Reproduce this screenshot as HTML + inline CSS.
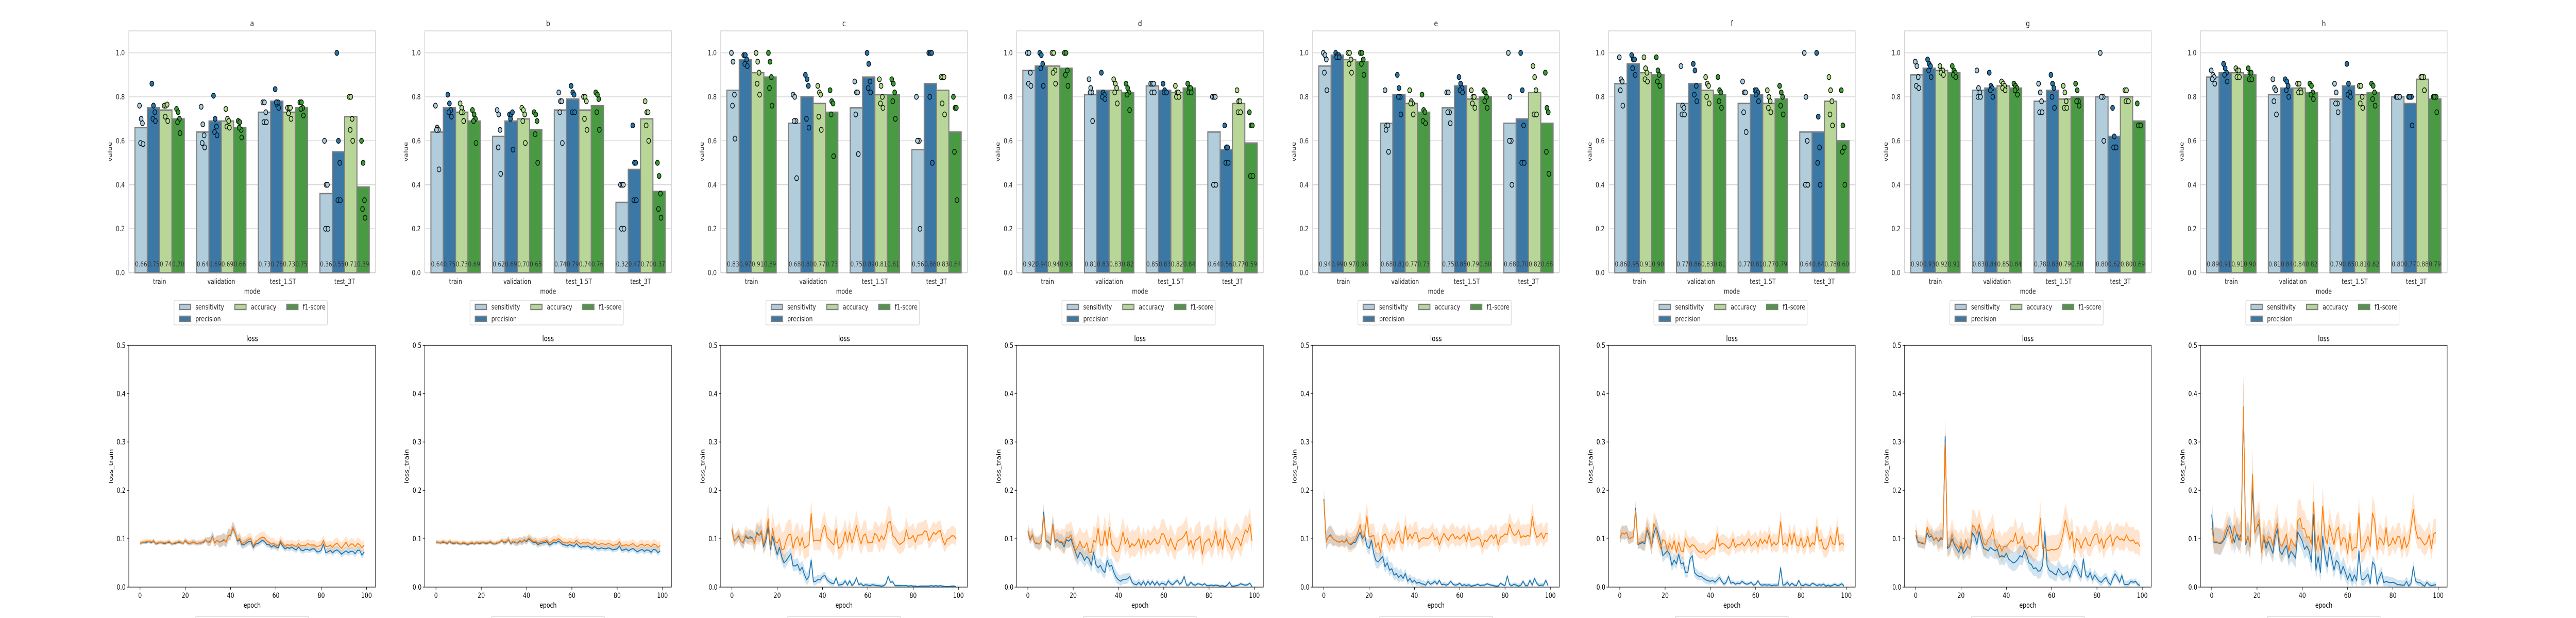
<!DOCTYPE html>
<html><head><meta charset="utf-8">
<style>
html,body{margin:0;padding:0;background:#fff;width:100%;height:100%;overflow:hidden;}
svg{display:block;position:absolute;left:0;top:0;width:100vw;height:100vh;}
text{font-family:"DejaVu Sans","Liberation Sans",sans-serif;}
</style></head>
<body>
<svg id="fig" viewBox="0 0 6400 1200" preserveAspectRatio="none" xmlns="http://www.w3.org/2000/svg"></svg>
<script>
// ---------- data ----------
const panelLetters = ["a","b","c","d","e","f","g","h"];
const modes = ["train","validation","test_1.5T","test_3T"];
const metrics = ["sensitivity","precision","accuracy","f1-score"];
const yTicksBar = [0,0.2,0.4,0.6,0.8,1.0];
const yTicksLoss = [0,0.1,0.2,0.3,0.4,0.5];
const xTicksLoss = [0,20,40,60,80,100];

const barA = [[.66,.75,.74,.70],[.64,.69,.69,.66],[.73,.78,.73,.75],[.36,.55,.71,.39]];
const barB = [[.64,.75,.73,.69],[.62,.69,.70,.65],[.74,.79,.74,.76],[.32,.47,.70,.37]];
const barC = [[.83,.97,.91,.89],[.68,.80,.77,.73],[.75,.89,.81,.81],[.56,.86,.83,.64]];
const barD = [[.92,.94,.94,.93],[.81,.83,.83,.82],[.85,.83,.82,.84],[.64,.56,.77,.59]];
const barE = [[.94,.99,.97,.96],[.68,.81,.77,.73],[.75,.85,.79,.80],[.68,.70,.82,.68]];
const barF = [[.86,.95,.91,.90],[.77,.86,.83,.81],[.77,.81,.77,.79],[.64,.64,.78,.60]];
const barG = [[.90,.93,.92,.91],[.83,.84,.85,.84],[.78,.83,.79,.80],[.80,.62,.80,.69]];
const barH = [[.89,.91,.91,.90],[.81,.84,.84,.82],[.79,.85,.81,.82],[.80,.77,.88,.79]];

const dotsA = [[[.76,.70,.68,.59,.585],[.86,.76,.73,.70,.69],[.76,.76,.765,.71,.69],[.745,.73,.70,.685,.635]],
 [[.755,.675,.625,.59,.57],[.805,.70,.665,.64,.625],[.745,.70,.69,.665,.66],[.69,.685,.65,.66,.615]],
 [[.775,.775,.73,.685,.685],[.835,.765,.775,.775,.75],[.75,.75,.75,.725,.70],[.775,.775,.75,.745,.715]],
 [[.60,.40,.40,.20,.20],[1.0,.60,.50,.33,.33],[.80,.80,.70,.65,.60],[.60,.50,.33,.29,.25]]];
const dotsB = [[[.76,.66,.65,.65,.47],[.81,.77,.74,.73,.71],[.77,.75,.73,.73,.69],[.74,.72,.70,.69,.59]],
 [[.74,.72,.65,.57,.45],[.72,.72,.73,.70,.56],[.75,.74,.72,.69,.59],[.73,.72,.69,.63,.50]],
 [[.82,.78,.78,.73,.59],[.85,.82,.81,.73,.73],[.80,.80,.78,.70,.65],[.82,.81,.79,.73,.65]],
 [[.40,.40,.40,.20,.20],[.67,.50,.50,.33,.33],[.78,.73,.73,.67,.60],[.50,.44,.36,.29,.25]]];
const dotsC = [[[1.0,.96,.81,.76,.61],[.99,.99,.97,.95,.94],[1.0,.96,.91,.86,.81],[1.0,.96,.89,.84,.76]],
 [[.81,.80,.69,.69,.43],[.90,.88,.85,.70,.66],[.85,.82,.81,.71,.65],[.83,.78,.77,.72,.53]],
 [[.87,.82,.82,.72,.54],[1.0,.95,.87,.84,.82],[.88,.85,.80,.77,.75],[.88,.86,.82,.78,.70]],
 [[.80,.60,.60,.60,.20],[1.0,1.0,1.0,.80,.50],[.89,.89,.89,.77,.72],[.80,.75,.75,.55,.33]]];
const dotsD = [[[1.0,1.0,.91,.86,.85],[1.0,.99,.95,.93,.85],[1.0,1.0,.92,.91,.86],[1.0,1.0,.92,.90,.85]],
 [[.88,.84,.82,.82,.69],[.91,.82,.81,.80,.79],[.88,.86,.84,.82,.77],[.86,.84,.82,.81,.74]],
 [[.86,.86,.86,.82,.82],[.86,.83,.82,.82,.82],[.85,.82,.82,.80,.80],[.86,.84,.84,.82,.82]],
 [[.80,.80,.80,.40,.40],[.67,.57,.57,.50,.50],[.83,.78,.78,.73,.73],[.73,.67,.67,.44,.44]]];
const dotsE = [[[1.0,.99,.97,.91,.83],[1.0,.99,.99,.98,.98],[1.0,1.0,.97,.95,.91],[1.0,1.0,.97,.95,.90]],
 [[.83,.67,.67,.65,.55],[.90,.84,.80,.80,.72],[.83,.78,.77,.77,.72],[.81,.74,.73,.69,.68]],
 [[.82,.82,.73,.73,.68],[.89,.86,.84,.83,.82],[.83,.80,.80,.77,.75],[.83,.82,.80,.78,.75]],
 [[1.0,.80,.60,.60,.40],[1.0,.83,.67,.50,.50],[.94,.89,.83,.72,.72],[.91,.75,.73,.55,.45]]];
const dotsF = [[[.98,.88,.87,.83,.76],[.99,.97,.97,.93,.90],[.98,.93,.91,.88,.87],[.98,.92,.90,.87,.85]],
 [[.94,.76,.75,.72,.72],[.95,.92,.85,.81,.78],[.89,.86,.85,.80,.77],[.89,.83,.82,.78,.75]],
 [[.87,.82,.82,.73,.64],[.83,.83,.82,.81,.78],[.83,.80,.78,.75,.73],[.85,.82,.80,.76,.72]],
 [[1.0,.80,.60,.40,.40],[1.0,.71,.57,.50,.40],[.89,.83,.78,.72,.67],[.83,.67,.57,.55,.40]]];
const dotsG = [[[.96,.94,.89,.85,.84],[.97,.95,.94,.92,.89],[.94,.92,.92,.91,.90],[.94,.92,.91,.90,.89]],
 [[.92,.84,.82,.80,.80],[.91,.85,.84,.83,.80],[.87,.86,.85,.84,.83],[.86,.85,.84,.83,.81]],
 [[.86,.82,.78,.73,.73],[.90,.86,.84,.80,.75],[.85,.82,.78,.75,.75],[.86,.83,.78,.78,.76]],
 [[1.0,.80,.80,.80,.60],[.75,.62,.57,.57,.57],[.83,.83,.78,.78,.78],[.77,.67,.67,.67,.67]]];
const dotsH = [[[.92,.90,.89,.88,.86],[.95,.93,.91,.90,.87],[.93,.92,.92,.89,.89],[.93,.91,.91,.88,.88]],
 [[.88,.84,.83,.78,.72],[.88,.87,.85,.83,.80],[.86,.86,.83,.82,.82],[.86,.85,.82,.81,.79]],
 [[.86,.82,.77,.77,.73],[.95,.86,.82,.81,.80],[.85,.85,.80,.77,.75],[.86,.85,.82,.79,.76]],
 [[.80,.80,.80,.80,.80],[.80,.80,.80,.80,.67],[.89,.89,.89,.89,.83],[.80,.80,.80,.80,.73]]];

const lossTrainA = [.090,.092,.092,.093,.094,.092,.095,.089,.091,.092,.091,.090,.092,.093,.089,.090,.091,.093,.092,.090,
 .096,.091,.090,.092,.092,.090,.091,.091,.093,.097,.093,.094,.105,.091,.097,.093,.094,.098,.093,.106,
 .107,.122,.112,.095,.098,.087,.088,.091,.094,.094,.082,.089,.090,.093,.097,.094,.088,.088,.083,.086,
 .083,.081,.092,.085,.079,.082,.080,.083,.079,.077,.083,.077,.075,.078,.078,.076,.079,.079,.073,.073,
 .076,.089,.071,.073,.076,.071,.075,.077,.073,.068,.072,.075,.071,.074,.074,.069,.076,.076,.066,.073];
const lossValA = [.090,.093,.093,.094,.095,.093,.096,.090,.092,.093,.092,.091,.093,.094,.089,.091,.092,.094,.093,.090,
 .097,.092,.090,.093,.093,.090,.091,.092,.094,.098,.093,.093,.104,.091,.097,.093,.095,.099,.093,.107,
 .108,.124,.113,.097,.101,.090,.092,.095,.099,.100,.085,.093,.097,.101,.103,.102,.096,.092,.089,.090,
 .087,.085,.096,.090,.084,.088,.086,.088,.086,.084,.090,.085,.086,.086,.090,.087,.087,.087,.083,.085,
 .087,.097,.084,.084,.087,.082,.088,.091,.085,.080,.087,.093,.083,.089,.089,.083,.090,.088,.081,.087];
const lossTrainB = [.093,.092,.091,.093,.092,.090,.094,.091,.090,.092,.090,.089,.091,.090,.088,.090,.091,.089,.092,.090,
 .091,.092,.090,.091,.093,.090,.089,.091,.092,.096,.092,.093,.098,.090,.094,.092,.091,.095,.093,.097,
 .094,.100,.096,.092,.093,.088,.090,.091,.092,.094,.087,.089,.093,.091,.095,.092,.088,.087,.085,.088,
 .086,.084,.090,.085,.082,.084,.083,.085,.082,.080,.084,.080,.079,.081,.080,.079,.081,.080,.077,.078,
 .079,.085,.076,.077,.079,.075,.078,.080,.076,.073,.076,.078,.074,.077,.076,.072,.078,.077,.071,.075];
const lossValB = [.093,.093,.092,.094,.093,.091,.095,.092,.091,.093,.091,.090,.092,.091,.089,.091,.092,.090,.093,.091,
 .092,.093,.091,.092,.094,.091,.090,.092,.093,.097,.093,.094,.099,.091,.095,.093,.092,.096,.094,.098,
 .096,.102,.098,.094,.095,.091,.093,.094,.095,.097,.091,.094,.098,.096,.100,.097,.093,.092,.091,.094,
 .092,.091,.097,.092,.090,.092,.091,.093,.090,.088,.093,.089,.088,.090,.089,.088,.090,.089,.086,.087,
 .088,.094,.085,.086,.088,.085,.088,.090,.086,.083,.087,.089,.085,.088,.087,.083,.089,.088,.082,.086];
const lossTrainC = [.118,.096,.100,.105,.095,.091,.105,.100,.104,.102,.091,.113,.107,.112,.083,.097,.125,.078,.105,.085,
 .067,.082,.062,.050,.055,.062,.069,.044,.044,.047,.034,.041,.026,.015,.022,.056,.011,.012,.016,.015,
 .022,.024,.015,.011,.008,.007,.019,.004,.005,.006,.013,.004,.013,.003,.008,.019,.005,.007,.003,.005,
 .004,.003,.005,.004,.003,.003,.002,.003,.007,.022,.010,.011,.003,.003,.003,.003,.003,.003,.002,.003,
 .002,.002,.001,.002,.002,.002,.002,.002,.003,.002,.003,.002,.003,.002,.001,.001,.001,.002,.002,.001];
const lossValC = [.121,.095,.100,.108,.095,.092,.108,.103,.101,.101,.090,.110,.106,.117,.088,.105,.141,.084,.121,.094,
 .091,.100,.077,.079,.097,.108,.109,.080,.098,.104,.085,.103,.081,.084,.088,.152,.095,.097,.097,.095,
 .117,.128,.103,.098,.092,.087,.120,.080,.083,.092,.115,.093,.114,.091,.108,.127,.105,.089,.106,.110,
 .091,.093,.092,.111,.107,.094,.106,.098,.110,.134,.135,.106,.102,.094,.088,.091,.095,.118,.100,.101,
 .107,.093,.107,.108,.108,.116,.115,.096,.104,.113,.109,.115,.117,.099,.087,.099,.101,.106,.106,.100];
const lossTrainD = [.115,.098,.108,.092,.090,.089,.095,.155,.095,.092,.088,.130,.093,.098,.093,.092,.083,.098,.095,.100,
 .086,.072,.060,.072,.066,.055,.063,.058,.045,.072,.047,.040,.045,.035,.030,.055,.043,.045,.030,.020,
 .015,.012,.016,.016,.017,.022,.010,.006,.005,.010,.004,.012,.003,.012,.005,.012,.004,.011,.004,.008,
 .007,.004,.013,.007,.005,.010,.014,.006,.010,.022,.004,.004,.010,.005,.004,.007,.006,.004,.007,.003,
 .003,.004,.003,.004,.003,.002,.003,.001,.004,.010,.002,.002,.003,.004,.007,.005,.004,.005,.008,.001];
const lossValD = [.117,.100,.109,.092,.091,.089,.094,.147,.097,.095,.089,.128,.097,.099,.094,.094,.090,.103,.102,.108,
 .090,.075,.083,.095,.083,.082,.092,.072,.072,.097,.093,.122,.087,.087,.117,.086,.123,.089,.082,.073,
 .075,.092,.114,.090,.100,.082,.090,.085,.091,.100,.080,.098,.082,.097,.087,.094,.100,.089,.093,.110,
 .110,.097,.085,.101,.088,.077,.095,.098,.100,.106,.115,.086,.097,.078,.097,.100,.105,.068,.091,.096,
 .100,.083,.094,.116,.085,.100,.078,.118,.097,.090,.077,.090,.103,.098,.085,.103,.118,.113,.130,.095];
const lossTrainE = [.182,.095,.104,.108,.100,.097,.094,.093,.096,.092,.098,.090,.088,.092,.093,.104,.113,.100,.108,.085,
 .080,.097,.070,.055,.052,.058,.063,.042,.050,.035,.038,.025,.028,.020,.025,.018,.028,.012,.018,.010,
 .014,.008,.010,.007,.006,.004,.012,.006,.008,.012,.006,.014,.005,.006,.004,.006,.012,.006,.004,.005,
 .008,.003,.005,.003,.005,.002,.003,.004,.006,.003,.004,.004,.007,.005,.004,.003,.002,.002,.008,.005,
 .003,.023,.005,.003,.006,.004,.002,.004,.012,.003,.003,.014,.004,.018,.008,.003,.004,.004,.014,.003];
const lossValE = [.178,.093,.104,.106,.100,.097,.094,.093,.096,.092,.100,.090,.090,.094,.100,.112,.130,.103,.108,.147,
 .104,.105,.107,.082,.092,.072,.105,.110,.100,.088,.100,.090,.107,.115,.095,.090,.126,.098,.110,.100,
 .112,.112,.093,.100,.102,.101,.100,.104,.112,.098,.104,.087,.100,.111,.103,.097,.106,.110,.100,.105,
 .099,.104,.109,.094,.113,.097,.099,.100,.104,.099,.083,.097,.094,.102,.108,.100,.109,.087,.103,.105,
 .110,.108,.130,.115,.107,.109,.118,.102,.106,.104,.107,.105,.146,.118,.103,.106,.112,.100,.111,.110];
const lossTrainF = [.101,.112,.110,.113,.100,.102,.104,.163,.088,.090,.092,.090,.118,.105,.084,.110,.124,.110,.092,.065,
 .070,.075,.068,.045,.056,.048,.068,.048,.050,.030,.030,.058,.065,.030,.025,.022,.022,.018,.015,.013,
 .012,.014,.010,.015,.020,.012,.006,.010,.022,.008,.010,.006,.008,.007,.012,.008,.006,.007,.010,.004,
 .006,.013,.005,.004,.005,.004,.005,.003,.004,.004,.004,.040,.004,.005,.010,.003,.008,.004,.003,.014,
 .004,.003,.006,.004,.003,.008,.006,.003,.005,.004,.006,.002,.004,.002,.004,.006,.003,.004,.007,.002];
const lossValF = [.101,.112,.110,.113,.100,.102,.104,.158,.090,.093,.094,.095,.123,.112,.083,.131,.122,.096,.080,.098,
 .095,.075,.091,.078,.096,.072,.093,.075,.073,.100,.087,.082,.088,.085,.078,.073,.072,.075,.068,.073,
 .077,.082,.078,.110,.085,.090,.089,.085,.080,.085,.100,.082,.088,.087,.093,.085,.092,.100,.085,.090,
 .095,.083,.100,.090,.098,.090,.108,.085,.093,.087,.093,.135,.087,.092,.085,.110,.088,.112,.088,.085,
 .102,.082,.087,.105,.083,.092,.088,.125,.095,.098,.080,.078,.086,.106,.090,.088,.123,.087,.092,.088];
const lossTrainG = [.107,.092,.092,.090,.089,.112,.103,.106,.097,.102,.095,.100,.099,.312,.080,.085,.100,.088,.080,.072,
 .085,.070,.076,.085,.078,.112,.105,.088,.115,.095,.080,.078,.075,.082,.078,.075,.078,.062,.065,.062,
 .070,.058,.054,.050,.052,.057,.065,.062,.076,.066,.050,.047,.038,.040,.033,.034,.045,.115,.045,.034,
 .032,.028,.025,.038,.030,.025,.028,.032,.020,.035,.045,.040,.028,.020,.058,.025,.020,.030,.015,.025,
 .018,.012,.010,.016,.020,.010,.005,.018,.027,.020,.010,.024,.006,.005,.006,.012,.010,.012,.006,.003];
const lossValG = [.118,.094,.093,.092,.089,.124,.110,.108,.098,.103,.096,.103,.100,.298,.086,.088,.110,.090,.088,.080,
 .092,.076,.098,.085,.080,.127,.125,.110,.130,.110,.090,.087,.100,.105,.120,.090,.080,.088,.074,.085,
 .083,.090,.096,.094,.112,.090,.093,.105,.085,.079,.085,.082,.075,.085,.086,.142,.080,.082,.076,.076,
 .078,.077,.078,.080,.090,.110,.138,.120,.098,.115,.072,.100,.095,.080,.095,.102,.088,.085,.098,.108,
 .110,.090,.100,.080,.097,.102,.108,.085,.100,.105,.098,.100,.096,.108,.098,.095,.098,.090,.092,.084];
const lossTrainH = [.150,.092,.092,.091,.090,.095,.103,.118,.127,.110,.092,.111,.097,.110,.370,.088,.105,.083,.205,.112,
 .125,.130,.072,.103,.080,.095,.082,.070,.104,.120,.075,.067,.078,.086,.060,.074,.068,.060,.114,.105,
 .095,.078,.085,.075,.052,.150,.035,.063,.030,.105,.065,.042,.082,.058,.035,.055,.050,.027,.043,.030,
 .016,.028,.012,.025,.013,.075,.017,.015,.020,.027,.007,.052,.045,.006,.020,.030,.009,.012,.010,.009,
 .010,.008,.005,.005,.004,.004,.012,.002,.008,.042,.013,.009,.009,.005,.002,.010,.005,.003,.004,.005];
const lossValH = [.122,.095,.095,.092,.093,.097,.115,.127,.110,.090,.127,.110,.107,.095,.372,.093,.104,.085,.233,.112,
 .125,.140,.072,.108,.088,.104,.102,.085,.115,.132,.090,.084,.096,.110,.074,.100,.090,.083,.137,.143,
 .122,.120,.103,.104,.089,.175,.074,.107,.076,.167,.105,.089,.128,.107,.088,.116,.124,.086,.102,.099,
 .070,.111,.075,.082,.081,.153,.073,.077,.091,.105,.084,.153,.137,.077,.102,.097,.087,.123,.085,.089,
 .102,.089,.104,.104,.078,.104,.082,.093,.125,.160,.120,.101,.102,.094,.087,.092,.108,.080,.110,.113];

// band half-widths, one value per block of 5 epochs
const spreadTrain = [
 [.004,.004,.004,.004,.005,.005,.010,.014,.012,.010,.008,.008,.008,.008,.008,.007,.008,.008,.009,.009],
 [.004,.004,.004,.004,.004,.004,.006,.008,.008,.008,.007,.007,.007,.007,.007,.007,.007,.007,.008,.008],
 [.012,.014,.018,.018,.016,.014,.014,.010,.008,.006,.005,.004,.004,.004,.003,.002,.002,.002,.002,.002],
 [.012,.015,.016,.018,.020,.018,.016,.014,.012,.008,.006,.005,.006,.005,.004,.003,.003,.003,.003,.003],
 [.020,.012,.014,.014,.018,.016,.014,.010,.008,.006,.005,.004,.004,.003,.003,.003,.004,.005,.005,.005],
 [.015,.012,.020,.018,.016,.014,.012,.010,.008,.006,.005,.004,.004,.004,.006,.004,.004,.004,.004,.004],
 [.012,.015,.020,.020,.018,.020,.022,.022,.022,.022,.020,.020,.018,.016,.014,.012,.010,.010,.008,.006],
 [.030,.020,.030,.030,.025,.025,.022,.025,.025,.025,.022,.020,.018,.016,.014,.012,.010,.010,.008,.006]];
const spreadVal = [
 [.005,.005,.005,.005,.006,.006,.010,.014,.012,.012,.012,.012,.010,.010,.010,.010,.010,.012,.012,.012],
 [.005,.005,.005,.005,.005,.005,.007,.009,.009,.009,.009,.009,.009,.009,.009,.009,.009,.009,.010,.010],
 [.015,.018,.025,.030,.035,.030,.030,.025,.025,.030,.025,.028,.025,.030,.025,.025,.025,.022,.020,.020],
 [.015,.018,.022,.028,.030,.030,.030,.028,.030,.030,.025,.028,.030,.028,.030,.032,.030,.028,.030,.030],
 [.020,.014,.022,.025,.025,.022,.022,.022,.022,.020,.020,.022,.020,.020,.022,.022,.022,.024,.024,.022],
 [.015,.015,.022,.022,.020,.020,.018,.018,.018,.020,.018,.020,.020,.020,.022,.020,.020,.022,.022,.020],
 [.015,.018,.030,.030,.030,.030,.030,.030,.030,.030,.030,.030,.030,.030,.028,.028,.028,.028,.028,.028],
 [.030,.025,.035,.035,.035,.035,.035,.035,.035,.035,.030,.030,.030,.030,.030,.028,.028,.028,.028,.028]];

const barSets = [barA,barB,barC,barD,barE,barF,barG,barH];
const dotSets = [dotsA,dotsB,dotsC,dotsD,dotsE,dotsF,dotsG,dotsH];
const trainSets = [lossTrainA,lossTrainB,lossTrainC,lossTrainD,lossTrainE,lossTrainF,lossTrainG,lossTrainH];
const valSets = [lossValA,lossValB,lossValC,lossValD,lossValE,lossValF,lossValG,lossValH];

// ---------- drawing ----------
const NS = "http://www.w3.org/2000/svg";
const svg = document.getElementById("fig");
const W = 612.8, STEP = 735.3, LEFT0 = 320;
const TOP1 = 60, TOP2 = 670.4, HH = 469.6;
const barFill = ["#b1cddc","#3b78a6","#b7d698","#4a9a44"];
const dotFill = ["#a6cee3","#1f78b4","#b2df8a","#33a02c"];
const jitter = [-0.22,0.0,0.18,-0.08,0.26];

function el(tag, attrs, parent, txt){
  const e = document.createElementNS(NS, tag);
  for (const k in attrs) e.setAttribute(k, attrs[k]);
  if (txt !== undefined) e.textContent = txt;
  (parent || svg).appendChild(e);
  return e;
}

panelLetters.forEach((letter, p) => {
  const L = LEFT0 + p*STEP;
  const g = el("g", {});
  
  
  const yB = v => TOP1 + HH*(1 - v/1.1);
  const groupW = W/4;
  const xC = (m, k) => L + (m+0.5)*groupW + (k-1.5)*0.2*groupW;
  yTicksBar.forEach(t => {
    const gl = el("line", {x1:L, x2:L+W, y1:yB(t), y2:yB(t), stroke:"#cccccc", "stroke-width":1.4}, g);
    
    
    const tl = el("text", {x:L-10, y:yB(t)+5, "text-anchor":"end", "font-size":14, fill:"#262626"}, g, t.toFixed(1));
    
    
  });
  const fr = el("rect", {x:L, y:TOP1, width:W, height:HH, fill:"none", stroke:"#cccccc", "stroke-width":1.4}, g);
  
  
  const bars = barSets[p], dots = dotSets[p];
  modes.forEach((mName, m) => {
    metrics.forEach((met, k) => {
      const v = bars[m][k];
      const bw = 0.2*groupW;
      const b = el("rect", {x:xC(m,k)-bw/2, y:yB(v), width:bw, height:yB(0)-yB(v), fill:barFill[k], stroke:"#808080", "stroke-width":2.6}, g);
      
      
    });
  });
  modes.forEach((mName, m) => {
    metrics.forEach((met, k) => {
      const bw = 0.2*groupW;
      dots[m][k].forEach((d, i) => {
        const c = el("circle", {cx:xC(m,k)+jitter[i]*bw*0.6, cy:yB(d), r:4.8, fill:dotFill[k], stroke:"#111", "stroke-width":1.6}, g);
        
        
      });
      const lab = el("text", {x:xC(m,k), y:yB(0)-12, "text-anchor":"middle", "font-size":13.5, fill:"#333"}, g, bars[m][k].toFixed(2));
      
      
    });
    const xl = el("text", {x:L+(m+0.5)*groupW, y:yB(0)+22, "text-anchor":"middle", "font-size":14, fill:"#262626"}, g, mName);
    
    
  });
  const t1 = el("text", {x:L+W/2, y:TOP1-9, "text-anchor":"middle", "font-size":16, fill:"#262626"}, g, letter);
  
  
  const xa = el("text", {x:L+W/2, y:yB(0)+41, "text-anchor":"middle", "font-size":14, fill:"#262626"}, g, "mode");
  
  
  const ya = el("text", {x:0, y:0, "text-anchor":"middle", "font-size":14, fill:"#262626", transform:`translate(${L-42},${TOP1+HH/2}) rotate(-90)`}, g, "value");
  
  
  const lg = el("g", {}, g);
  
  
  const lx = L + W/2 - 194;
  const lb = el("rect", {x:lx, y:583, width:381, height:48, rx:3, fill:"#fff", stroke:"#d5d5d5", "stroke-width":1.3}, lg);
  
  
  const entries = [[0,0,0],[1,0,1],[2,1,0],[3,2,0]];
  const colX = [13, 151, 280];
  entries.forEach(([k, c, r]) => {
    const ey = 596 + r*23;
    const pr = el("rect", {x:lx+colX[c], y:ey-5, width:28, height:10, fill:barFill[k], stroke:"#808080", "stroke-width":2.4}, lg);
    
    
    const pt = el("text", {x:lx+colX[c]+40, y:ey+5, "font-size":14, fill:"#262626"}, lg, metrics[k]);
    
    
  });

  const g2 = el("g", {});
  
  
  const xL = e => L + (e + 4.95)/(108.9)*W;
  const yL = v => TOP2 + HH*(1 - v/0.5);
  const clipId = "clip" + p;
  const cp = el("clipPath", {id:clipId}, g2);
  el("rect", {x:L, y:TOP2, width:W, height:HH}, cp);
  const plotG = el("g", {"clip-path":`url(#${clipId})`}, g2);
  const series = [[trainSets[p], spreadTrain[p], "#1f77b4", "train"], [valSets[p], spreadVal[p], "#ff7f0e", "validation"]];
  series.forEach(([vals, spr, col, nm]) => {
    let up = "", lo = "";
    vals.forEach((v, e) => {
      const s = spr[Math.floor(e/5)] * (1 + Math.max(0, v - 0.1) * 4);
      up += (e ? "L" : "M") + xL(e).toFixed(1) + "," + yL(v + s).toFixed(1);
    });
    for (let e = vals.length - 1; e >= 0; e--) {
      const s = spr[Math.floor(e/5)] * 0.8;
      lo += "L" + xL(e).toFixed(1) + "," + yL(Math.max(0, vals[e] - s)).toFixed(1);
    }
    const band = el("path", {d:up + lo + "Z", fill:col, "fill-opacity":0.2, stroke:"none"}, plotG);
    
    
  });
  series.forEach(([vals, spr, col, nm]) => {
    const d = vals.map((v, e) => (e ? "L" : "M") + xL(e).toFixed(1) + "," + yL(v).toFixed(1)).join("");
    const ln = el("path", {d:d, fill:"none", stroke:col, "stroke-width":2.1, "stroke-linejoin":"round"}, plotG);
    
    
  });
  const fr2 = el("rect", {x:L, y:TOP2, width:W, height:HH, fill:"none", stroke:"#000", "stroke-width":1.1}, g2);
  
  
  yTicksLoss.forEach(t => {
    const tk = el("line", {x1:L-5, x2:L, y1:yL(t), y2:yL(t), stroke:"#000", "stroke-width":1.1}, g2);
    
    
    const tl = el("text", {x:L-8, y:yL(t)+5, "text-anchor":"end", "font-size":14, fill:"#000", "font-family":"Liberation Sans, sans-serif"}, g2, t.toFixed(1));
    
    
  });
  xTicksLoss.forEach(t => {
    const tk = el("line", {x1:xL(t), x2:xL(t), y1:TOP2+HH, y2:TOP2+HH+5, stroke:"#000", "stroke-width":1.1}, g2);
    
    
    const tl = el("text", {x:xL(t), y:TOP2+HH+21, "text-anchor":"middle", "font-size":14, fill:"#000", "font-family":"Liberation Sans, sans-serif"}, g2, String(t));
    
    
  });
  const t2 = el("text", {x:L+W/2, y:TOP2-8, "text-anchor":"middle", "font-size":15, fill:"#000", "font-family":"Liberation Sans, sans-serif"}, g2, "loss");
  
  
  const xa2 = el("text", {x:L+W/2, y:TOP2+HH+40, "text-anchor":"middle", "font-size":14, fill:"#000", "font-family":"Liberation Sans, sans-serif"}, g2, "epoch");
  
  
  const ya2 = el("text", {x:0, y:0, "text-anchor":"middle", "font-size":14, fill:"#000", "font-family":"Liberation Sans, sans-serif", transform:`translate(${L-40},${TOP2+HH/2}) rotate(-90)`}, g2, "loss_train");
  
  
  const lg2 = el("path", {d:`M${L+W/2-140},1200 L${L+W/2-140},1199 Q${L+W/2-140},1197 ${L+W/2-137},1197 L${L+W/2+137},1197 Q${L+W/2+140},1197 ${L+W/2+140},1199 L${L+W/2+140},1200`, fill:"none", stroke:"#d5d5d5", "stroke-width":1.3}, g2);
  
  
});
</script>
</body></html>
